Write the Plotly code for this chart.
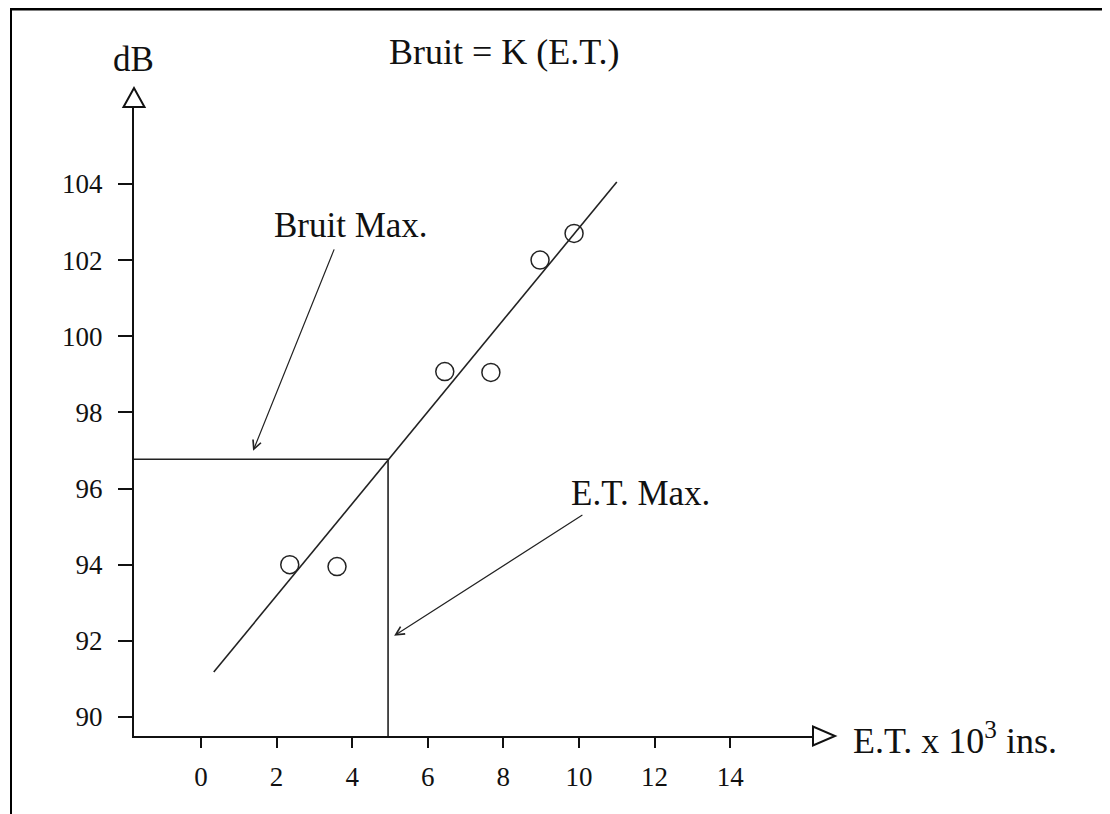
import plotly.graph_objects as go

# ---- data ----
et_points = [2.35, 3.6, 6.45, 7.67, 8.97, 9.87]          # E.T. x 10^3 ins.
db_points = [94.0, 93.95, 99.07, 99.05, 102.0, 102.7]    # dB
fit_x = [0.34, 11.0]
fit_y = [91.18, 104.05]
et_max = 4.95
bruit_max = 96.77
x_ticks = [0, 2, 4, 6, 8, 10, 12, 14]
y_ticks = [90, 92, 94, 96, 98, 100, 102, 104]
x_range = [-1.77, 16.19]
y_range = [89.5, 106.02]

title_text = "Bruit = K (E.T.)"
y_label = "dB"
x_label = "E.T. x 10<sup>3</sup> ins."
note_bruit = "Bruit Max."
note_et = "E.T. Max."

FONT = "Liberation Serif"
OFF = 8  # page body margin of the browser
W, H = 1110 - OFF, 814 - OFF
L, T = 134 - OFF, 107 - OFF
PW, PH = 679, 629
R, B = W - L - PW, H - T - PH


def px(xp):
    return (xp - OFF - L) / PW


def py(yp):
    return (T + PH - (yp - OFF)) / PH


fig = go.Figure()

# regression line
fig.add_trace(go.Scatter(x=fit_x, y=fit_y, mode="lines",
                         line=dict(color="#222", width=1.6),
                         hoverinfo="skip", showlegend=False))
# max lines (from y axis to intersection then down to x axis)
fig.add_trace(go.Scatter(x=[x_range[0], et_max, et_max],
                         y=[bruit_max, bruit_max, y_range[0]],
                         mode="lines", line=dict(color="#222", width=1.6),
                         hoverinfo="skip", showlegend=False, cliponaxis=False))
# measured points
fig.add_trace(go.Scatter(x=et_points, y=db_points, mode="markers",
                         marker=dict(symbol="circle-open", size=18,
                                     color="#222", line=dict(width=1.5, color="#222")),
                         showlegend=False))

axis_common = dict(showline=True, linecolor="#111", linewidth=2, ticks="outside",
                   tickcolor="#111", tickwidth=2, showgrid=False, zeroline=False,
                   tickfont=dict(family=FONT, size=27, color="#111"))
fig.update_xaxes(range=x_range, tickvals=x_ticks, ticklen=10,
                 ticklabelstandoff=6, **axis_common)
fig.update_yaxes(range=y_range, tickvals=y_ticks, ticklen=14,
                 ticklabelstandoff=10, **axis_common)

shapes = []
# y-axis open arrow head
shapes.append(dict(type="path", xref="paper", yref="paper",
                   path=f"M {px(123.5)},{py(107)} L {px(144.5)},{py(107)} L {px(134)},{py(88)} Z",
                   line=dict(color="#111", width=2), fillcolor="white"))
# x-axis open arrow head
shapes.append(dict(type="path", xref="paper", yref="paper",
                   path=f"M {px(813)},{py(726.5)} L {px(813)},{py(745.5)} L {px(835)},{py(736)} Z",
                   line=dict(color="#111", width=2), fillcolor="white"))
# page frame lines
shapes.append(dict(type="line", xref="paper", yref="paper",
                   x0=px(10), x1=px(1107), y0=py(9), y1=py(9),
                   line=dict(color="#000", width=3)))
shapes.append(dict(type="line", xref="paper", yref="paper",
                   x0=px(11), x1=px(11), y0=py(7), y1=py(820),
                   line=dict(color="#000", width=2)))

annotations = [
    dict(text=title_text, xref="paper", yref="paper", x=px(505), y=py(52),
         showarrow=False, font=dict(family=FONT, size=36, color="#111"),
         xanchor="center", yanchor="middle"),
    dict(text=y_label, xref="paper", yref="paper", x=px(133), y=py(60),
         showarrow=False, font=dict(family=FONT, size=35, color="#111"),
         xanchor="center", yanchor="middle"),
    dict(text=x_label, xref="paper", yref="paper", x=px(851), y=py(738),
         showarrow=False, font=dict(family=FONT, size=36, color="#111"),
         xanchor="left", yanchor="middle"),
    dict(text=note_bruit, xref="x", yref="y", x=3.98, y=102.9,
         showarrow=False, font=dict(family=FONT, size=35, color="#111"),
         xanchor="center", yanchor="middle"),
    dict(text=note_et, xref="x", yref="y", x=11.62, y=95.86,
         showarrow=False, font=dict(family=FONT, size=35, color="#111"),
         xanchor="center", yanchor="middle"),
    # arrows
    dict(text="", xref="x", yref="y", x=1.38, y=96.99, axref="x", ayref="y",
         ax=3.54, ay=102.32, showarrow=True, arrowhead=5, arrowsize=1.4,
         arrowwidth=1.2, arrowcolor="#222", standoff=0, startstandoff=0),
    dict(text="", xref="x", yref="y", x=5.11, y=92.13, axref="x", ayref="y",
         ax=10.13, ay=95.33, showarrow=True, arrowhead=5, arrowsize=1.4,
         arrowwidth=1.2, arrowcolor="#222", standoff=0, startstandoff=0),
]

fig.update_layout(width=W, height=H, margin=dict(l=L, r=R, t=T, b=B),
                  plot_bgcolor="white", paper_bgcolor="white",
                  shapes=shapes, annotations=annotations,
                  font=dict(family=FONT, color="#111"), showlegend=False)

fig.write_html("out.html")
